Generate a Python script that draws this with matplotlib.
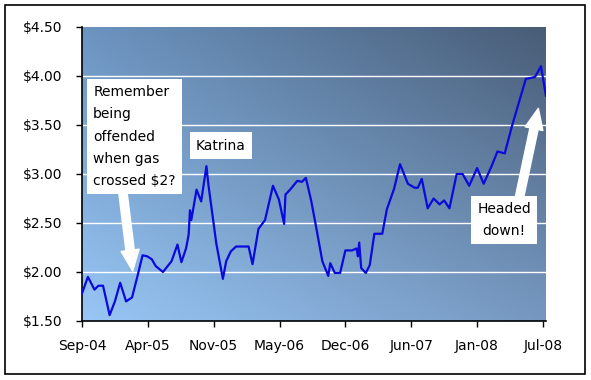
import numpy as np
import matplotlib.pyplot as plt
from matplotlib.patches import Rectangle

# gas price trace, x in tick-period units (0 = Sep-04 ... 7 = Jul-08)
period = [0.00, 0.09, 0.19, 0.25, 0.32, 0.42, 0.50, 0.58, 0.67, 0.76,
          0.84, 0.92, 0.99, 1.06, 1.12, 1.23, 1.36, 1.45, 1.51, 1.58,
          1.62, 1.64, 1.66, 1.74, 1.81, 1.89, 1.92, 2.04, 2.14, 2.19,
          2.26, 2.34, 2.53, 2.59, 2.68, 2.78, 2.90, 2.99, 3.07, 3.09,
          3.16, 3.27, 3.34, 3.40, 3.48, 3.55, 3.65, 3.74, 3.77, 3.84,
          3.92, 4.00, 4.10, 4.17, 4.19, 4.21, 4.24, 4.31, 4.37, 4.44,
          4.56, 4.63, 4.74, 4.83, 4.95, 5.05, 5.10, 5.16, 5.25, 5.34,
          5.43, 5.50, 5.58, 5.69, 5.78, 5.88, 6.00, 6.10, 6.22, 6.31,
          6.42, 6.53, 6.74, 6.88, 6.97, 7.045]
price = [1.78, 1.95, 1.82, 1.86, 1.86, 1.56, 1.70, 1.89, 1.70, 1.74,
         1.95, 2.17, 2.16, 2.13, 2.06, 2.00, 2.11, 2.28, 2.10, 2.24,
         2.38, 2.63, 2.53, 2.84, 2.72, 3.08, 2.89, 2.29, 1.93, 2.11,
         2.21, 2.26, 2.26, 2.08, 2.44, 2.53, 2.88, 2.74, 2.49, 2.79,
         2.84, 2.93, 2.92, 2.96, 2.73, 2.48, 2.11, 1.96, 2.09, 1.99,
         1.99, 2.22, 2.22, 2.24, 2.16, 2.30, 2.04, 1.99, 2.07, 2.39,
         2.39, 2.64, 2.85, 3.10, 2.90, 2.86, 2.86, 2.95, 2.65, 2.75,
         2.69, 2.73, 2.65, 3.00, 3.00, 2.88, 3.06, 2.90, 3.08, 3.23,
         3.21, 3.49, 3.97, 3.99, 4.10, 3.80]

tick_labels = ["Sep-04", "Apr-05", "Nov-05", "May-06", "Dec-06",
               "Jun-07", "Jan-08", "Jul-08"]
y_ticks = [1.5, 2.0, 2.5, 3.0, 3.5, 4.0, 4.5]

fig = plt.figure(figsize=(5.91, 3.80), dpi=100)
fig.patches.append(Rectangle((0.0085, 0.0158), 0.9813, 0.971,
                             transform=fig.transFigure, fill=False,
                             ec="black", lw=1.2))

ax = fig.add_axes([0.1387, 0.1553, 0.785, 0.7737])
xmax = 7.045
ax.set_xlim(0, xmax)
ax.set_ylim(1.5, 4.5)

# gradient background: light lower-left to dark upper-right
bl = np.array([152, 198, 245]) / 255
tl = np.array([108, 148, 192]) / 255
tr = np.array([72, 92, 118]) / 255
br = np.array([118, 152, 192]) / 255
u = np.linspace(0, 1, 200)[None, :, None]
v = np.linspace(0, 1, 150)[:, None, None]
grad = (1 - u) * (1 - v) * bl + u * (1 - v) * br + (1 - u) * v * tl + u * v * tr
ax.imshow(grad, extent=[0, xmax, 1.5, 4.5], origin="lower",
          aspect="auto", zorder=0)

for yv in [2.0, 2.5, 3.0, 3.5, 4.0]:
    ax.axhline(yv, color="white", lw=1.0, zorder=1)

ax.plot(period, price, color="#0a0adc", lw=1.6, zorder=3)

ax.set_xticks(range(len(tick_labels)))
ax.set_xticklabels(tick_labels)
ax.set_yticks(y_ticks)
ax.set_yticklabels([f"${v:.2f}" for v in y_ticks])
ax.tick_params(direction="out", length=4, width=1, labelsize=10)
ax.tick_params(axis="x", pad=9)
ax.tick_params(axis="y", pad=10)
for s in ["top", "right"]:
    ax.spines[s].set_visible(False)
ax.spines["left"].set_linewidth(1.2)
ax.spines["bottom"].set_linewidth(1.2)

box = dict(boxstyle="square,pad=0.45", fc="white", ec="none")
ax.text(0.17, 3.38, "Remember\nbeing\noffended\nwhen gas\ncrossed $2?",
        fontsize=10, ha="left", va="center", linespacing=1.75,
        bbox=box, zorder=5)
ax.text(2.11, 3.29, "Katrina", fontsize=10, ha="center", va="center",
        bbox=box, zorder=5)
ax.text(6.41, 2.53, "Headed\ndown!", fontsize=10, ha="center", va="center",
        linespacing=1.7, bbox=box, zorder=5)

arrow = dict(arrowstyle="simple,head_width=1.3,head_length=1.5,tail_width=0.6",
             fc="white", ec="white", mutation_scale=10, shrinkA=0, shrinkB=0)
ax.annotate("", xy=(0.77, 2.01), xytext=(0.62, 2.82),
            arrowprops=arrow, zorder=4)
ax.annotate("", xy=(6.93, 3.67), xytext=(6.64, 2.75),
            arrowprops=arrow, zorder=4)

fig.savefig("out.png", dpi=100)
